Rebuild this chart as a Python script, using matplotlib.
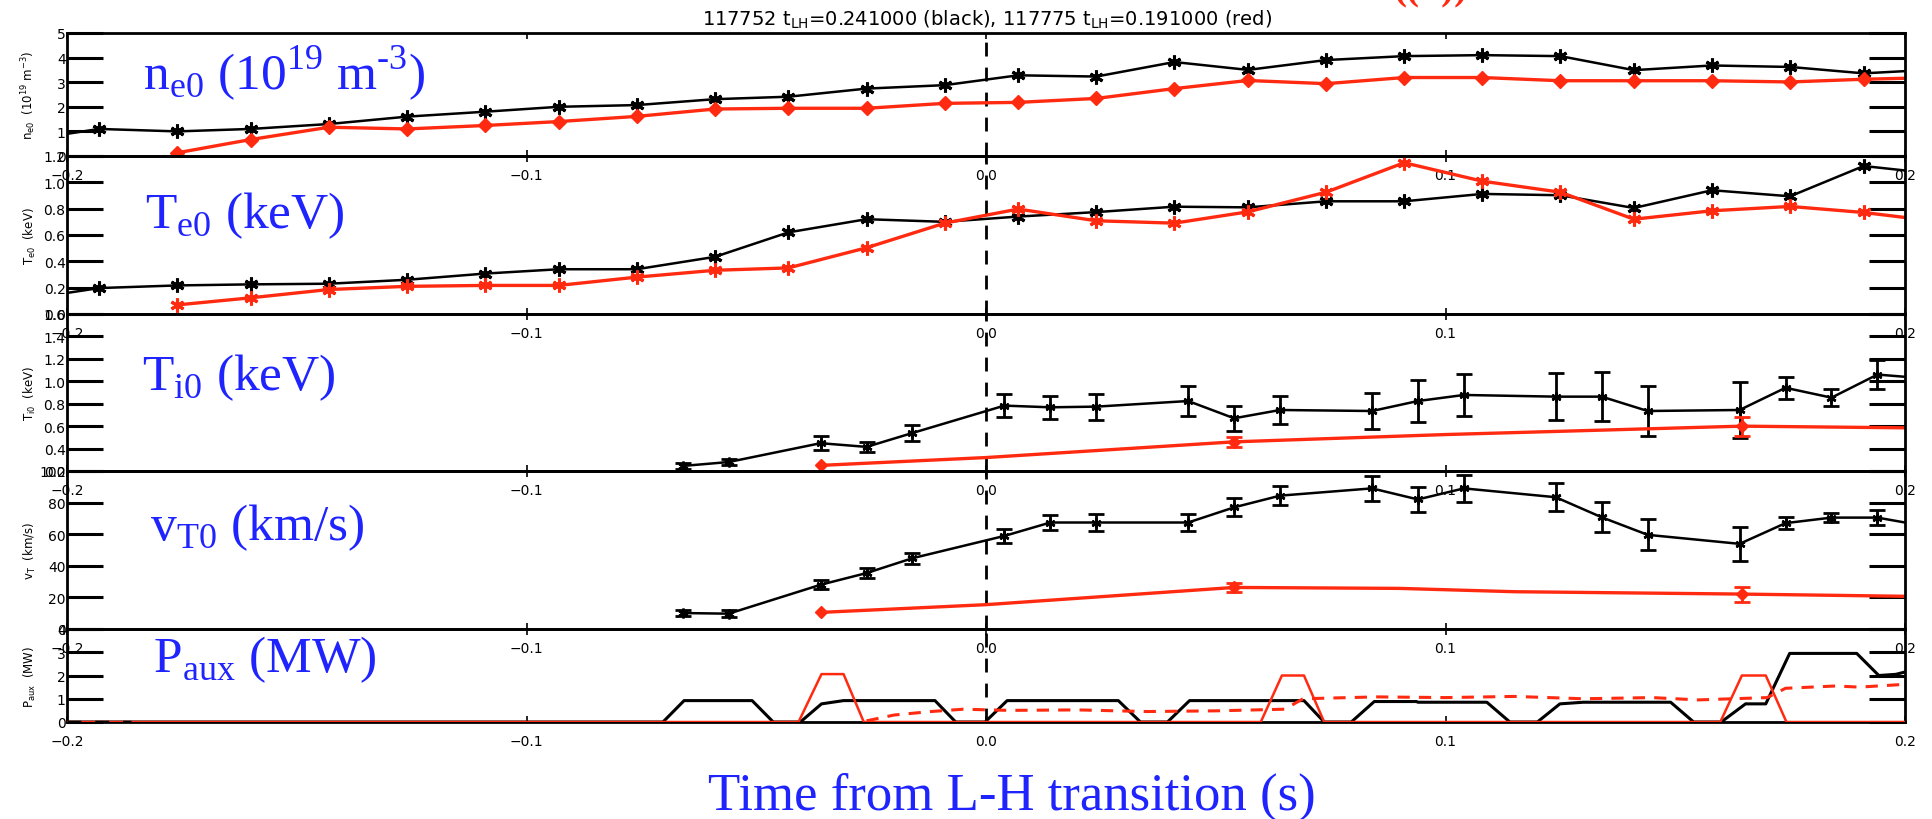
import numpy as np
import matplotlib
matplotlib.use("Agg")
from matplotlib import pyplot as plt

# ---- data ----
# Thomson points (s from L-H), black = 117752, red = 117775
ne_blk_t = [-0.2, -0.193, -0.176, -0.160, -0.143, -0.126, -0.109, -0.093, -0.076, -0.059, -0.043,
            -0.026, -0.009, 0.007, 0.024, 0.041, 0.057, 0.074, 0.091, 0.108, 0.125, 0.141,
            0.158, 0.175, 0.191, 0.2]
ne_blk = [0.9, 1.1, 1.0, 1.1, 1.3, 1.6, 1.8, 2.0, 2.07, 2.31, 2.41, 2.74, 2.88, 3.28, 3.23, 3.82,
          3.5, 3.9, 4.06, 4.1, 4.06, 3.49, 3.68, 3.62, 3.36, 3.45]
ne_red_t = [-0.176, -0.160, -0.143, -0.126, -0.109, -0.093, -0.076, -0.059, -0.043, -0.026,
            -0.009, 0.007, 0.024, 0.041, 0.057, 0.074, 0.091, 0.108, 0.125, 0.141, 0.158,
            0.175, 0.191, 0.2]
ne_red = [0.13, 0.67, 1.17, 1.1, 1.24, 1.4, 1.61, 1.91, 1.94, 1.94, 2.14, 2.18, 2.34, 2.74,
          3.07, 2.94, 3.19, 3.19, 3.06, 3.06, 3.06, 3.01, 3.12, 3.16]

te_blk = [0.16, 0.197, 0.217, 0.225, 0.23, 0.26, 0.307, 0.34, 0.34, 0.434, 0.62, 0.72, 0.70,
          0.74, 0.774, 0.815, 0.81, 0.856, 0.856, 0.912, 0.902, 0.805, 0.94, 0.894, 1.124, 1.09]
te_red = [0.069, 0.123, 0.186, 0.21, 0.217, 0.217, 0.28, 0.332, 0.35, 0.503, 0.69, 0.797,
          0.708, 0.69, 0.776, 0.925, 1.149, 1.009, 0.925, 0.72, 0.784, 0.817, 0.771, 0.733]

# CHERS points
ti_t = [-0.066, -0.056, -0.036, -0.026, -0.016, 0.004, 0.014, 0.024, 0.044, 0.054, 0.064,
        0.084, 0.094, 0.104, 0.124, 0.134, 0.144, 0.164, 0.174, 0.184, 0.194]
ti_blk = [0.245, 0.28, 0.448, 0.415, 0.539, 0.783, 0.768, 0.774, 0.824, 0.67, 0.744, 0.735,
          0.824, 0.878, 0.863, 0.863, 0.735, 0.744, 0.942, 0.854, 1.06]
ti_blk_err = [0.027, 0.03, 0.06, 0.048, 0.07, 0.1, 0.1, 0.115, 0.13, 0.114, 0.123, 0.16,
              0.185, 0.19, 0.21, 0.22, 0.22, 0.247, 0.096, 0.077, 0.126]
ti_blk_end = 1.04
ti_red_t = [-0.036, 0.0, 0.054, 0.1, 0.1645, 0.2]
ti_red = [0.25, 0.32, 0.46, 0.525, 0.6, 0.585]
ti_red_pts_t = [0.054, 0.1645]
ti_red_pts = [0.46, 0.6]
ti_red_err = [0.045, 0.085]

vt_blk = [10.1, 9.7, 28.0, 35.4, 44.8, 58.9, 67.4, 67.4, 67.4, 77.0, 84.4, 89.0, 82.0, 89.0,
          83.4, 70.7, 59.6, 53.9, 67.0, 70.5, 70.5]
vt_blk_err = [2.0, 2.3, 2.7, 3.2, 3.6, 4.5, 5.0, 5.3, 5.3, 5.7, 6.1, 7.8, 8.1, 8.6, 8.8, 9.4,
              9.9, 10.7, 3.7, 2.8, 4.9]
vt_blk_end = 67.4
vt_red_t = [-0.036, 0.0, 0.054, 0.09, 0.115, 0.1645, 0.2]
vt_red = [10.5, 15.4, 26.3, 25.7, 23.6, 22.1, 20.7]
vt_red_pts_t = [0.054, 0.1645]
vt_red_pts = [26.3, 22.1]
vt_red_err = [2.6, 4.7]

paux_blk_t = [-0.2, -0.0703, -0.0657, -0.0509, -0.0463, -0.0404, -0.0358, -0.031, -0.0111,
              -0.0066, -0.0002, 0.0046, 0.0288, 0.0336, 0.0395, 0.0443, 0.0692, 0.0736, 0.0795,
              0.0845, 0.0937, 0.094, 0.109, 0.114, 0.12, 0.1249, 0.13, 0.149, 0.154, 0.16,
              0.1653, 0.1697, 0.1749, 0.1895, 0.1943, 0.198, 0.2]
paux_blk = [0, 0, 0.92, 0.92, 0, 0, 0.78, 0.92, 0.92, 0, 0, 0.92, 0.92, 0, 0, 0.92, 0.92, 0,
            0, 0.88, 0.88, 0.85, 0.85, 0, 0, 0.78, 0.85, 0.85, 0, 0, 0.78, 0.78, 2.95, 2.95,
            2.0, 2.05, 2.15]
paux_red_t = [-0.2, -0.0408, -0.0358, -0.031, -0.0266, 0.0598, 0.0644, 0.0692, 0.0736, 0.1598,
              0.1645, 0.1697, 0.1742, 0.2]
paux_red = [0, 0, 2.06, 2.06, 0, 0, 2.0, 2.0, 0, 0, 2.0, 2.0, 0, 0]
pdash_red_t = [-0.026, -0.02, -0.012, -0.005, 0.005, 0.02, 0.035, 0.05, 0.065, 0.069, 0.085,
               0.1, 0.115, 0.13, 0.145, 0.155, 0.17, 0.174, 0.185, 0.19, 0.2]
pdash_red = [0.05, 0.3, 0.45, 0.55, 0.5, 0.52, 0.45, 0.48, 0.55, 1.0, 1.08, 1.05, 1.1, 1.0,
             1.05, 0.95, 1.05, 1.45, 1.55, 1.5, 1.62]

xticks = [-0.2, -0.1, 0.0, 0.1, 0.2]
xtick_labels = ["\u22120.2", "\u22120.1", "0.0", "0.1", "0.2"]

RED = "#ff2a10"
BLUE = "#1f24ff"
W, H = 1932, 820

fig = plt.figure(figsize=(W / 100, H / 100), dpi=100)
L, R = 67, 1905


def panel(top, bot):
    return fig.add_axes([L / W, 1 - bot / H, (R - L) / W, (bot - top) / H])


rows = [(34, 157), (157, 315), (315, 472), (472, 630), (630, 723)]
axs = [panel(t, b) for t, b in rows]

ylims = [(0, 5), (0, 1.2), (0.2, 1.6), (0, 100), (0, 4)]
yticks = [[0, 1, 2, 3, 4, 5], [0, 0.2, 0.4, 0.6, 0.8, 1.0, 1.2],
          [0.2, 0.4, 0.6, 0.8, 1.0, 1.2, 1.4, 1.6], [0, 20, 40, 60, 80, 100], [0, 1, 2, 3, 4]]
ytick_labels = [["0", "1", "2", "3", "4", "5"], ["0.0", "0.2", "0.4", "0.6", "0.8", "1.0", "1.2"],
                ["0.2", "0.4", "0.6", "0.8", "1.0", "1.2", "1.4", "1.6"],
                ["0", "20", "40", "60", "80", "100"], ["0", "1", "2", "3", "4"]]
small_ylabels = [r"n$_\mathregular{e0}$  (10$^\mathregular{19}$ m$^\mathregular{-3}$)",
                 r"T$_\mathregular{e0}$  (keV)", r"T$_\mathregular{i0}$  (keV)",
                 r"v$_\mathregular{T}$  (km/s)", r"P$_\mathregular{aux}$  (MW)"]

for ax, yl, yt, ytl, lab in zip(axs, ylims, yticks, ytick_labels, small_ylabels):
    ax.patch.set_visible(False)
    ax.set_xlim(-0.2, 0.2)
    ax.set_ylim(*yl)
    ax.set_yticks(yt)
    ax.set_yticklabels(ytl, fontsize=10)
    ax.set_xticks(xticks)
    ax.set_xticklabels(xtick_labels, fontsize=10)
    ax.tick_params(axis="y", direction="in", length=26, width=2.2, left=True, right=True, pad=1)
    ax.tick_params(axis="x", direction="in", length=4, width=1.2, top=True, bottom=True, pad=9)
    for s in ax.spines.values():
        s.set_linewidth(2)
    ax.set_ylabel(lab, fontsize=8.5, labelpad=0)
    ax.yaxis.set_label_coords(-0.016, 0.5)
    ax.axvline(0.0, color="k", lw=2, ls=(0, (5, 4)), zorder=1)

ast = dict(marker=(6, 2, 0), markersize=10, mew=2.2)

# n_e
ax = axs[0]
ax.plot(ne_blk_t, ne_blk, color="k", lw=1.8, markevery=slice(1, -1), mfc="k", mec="k", **ast)
ax.plot(ne_red_t, ne_red, color=RED, lw=2.4, marker="D", markersize=7, mfc=RED, mec=RED,
        markevery=slice(0, -1))

# T_e
ax = axs[1]
ax.plot(ne_blk_t, te_blk, color="k", lw=1.8, markevery=slice(1, -1), mfc="k", mec="k", **ast)
ax.plot(ne_red_t, te_red, color=RED, lw=2.4, markevery=slice(0, -1), mfc=RED, mec=RED, **ast)

# T_i
ax = axs[2]
ax.plot(ti_t + [0.2], ti_blk + [ti_blk_end], color="k", lw=1.8)
ax.errorbar(ti_t, ti_blk, yerr=ti_blk_err, fmt="none", ecolor="k", elinewidth=2,
            capsize=5.5, capthick=2)
ax.plot(ti_t, ti_blk, ls="none", marker=(6, 2, 0), markersize=7, mew=1.8, color="k")
ax.plot(ti_red_t, ti_red, color=RED, lw=2.4)
ax.errorbar(ti_red_pts_t, ti_red_pts, yerr=ti_red_err, fmt="none", ecolor=RED, elinewidth=2,
            capsize=5.5, capthick=2)
ax.plot(ti_red_t[:1] + ti_red_pts_t, ti_red[:1] + ti_red_pts, ls="none", marker="D",
        markersize=6, color=RED)

# v_T
ax = axs[3]
ax.plot(ti_t + [0.2], vt_blk + [vt_blk_end], color="k", lw=1.8)
ax.errorbar(ti_t, vt_blk, yerr=vt_blk_err, fmt="none", ecolor="k", elinewidth=2,
            capsize=5.5, capthick=2)
ax.plot(ti_t, vt_blk, ls="none", marker=(6, 2, 0), markersize=7, mew=1.8, color="k")
ax.plot(vt_red_t, vt_red, color=RED, lw=2.4)
ax.errorbar(vt_red_pts_t, vt_red_pts, yerr=vt_red_err, fmt="none", ecolor=RED, elinewidth=2,
            capsize=5.5, capthick=2)
ax.plot(vt_red_t[:1] + vt_red_pts_t, vt_red[:1] + vt_red_pts, ls="none", marker="D",
        markersize=6, color=RED)

# P_aux
ax = axs[4]
ax.plot(paux_blk_t, paux_blk, color="k", lw=2.2, zorder=2)
ax.plot(paux_red_t, paux_red, color=RED, lw=1.8, zorder=3)
ax.plot(pdash_red_t, pdash_red, color=RED, lw=2.2, ls=(0, (4, 3)), zorder=3)
ax.plot([-0.2, -0.186], [0.0, 0.0], color="k", lw=2.5, ls=(0, (4, 4)), zorder=4)

fig.text(987 / W, 1 - 20 / H,
         r"117752 t$_\mathregular{LH}$=0.241000 (black), 117775 t$_\mathregular{LH}$=0.191000 (red)",
         ha="center", va="center", fontsize=14)

# clipped red mark at the top edge
fig.text(1430 / W, 1 + 10 / H, "((\u00d7))", color=RED, fontsize=28, fontweight="bold",
         family="Liberation Serif", ha="center", va="center")

# big blue annotations
big = dict(color=BLUE, fontsize=37, family="Liberation Serif", va="baseline", ha="left")
fig.text(143 / W, 1 - 90 / H, "n$_\\mathregular{e0}$ (10$^\\mathregular{19}$ m$^\\mathregular{\u20103}$)", **big)
fig.text(145 / W, 1 - 228 / H, r"T$_\mathregular{e0}$ (keV)", **big)
fig.text(142 / W, 1 - 390 / H, r"T$_\mathregular{i0}$ (keV)", **big)
fig.text(150 / W, 1 - 540 / H, r"v$_\mathregular{T0}$ (km/s)", **big)
fig.text(153 / W, 1 - 672 / H, r"P$_\mathregular{aux}$ (MW)", **big)
fig.text(708 / W, 1 - 810 / H, "Time from L-H transition (s)", color=BLUE, fontsize=38,
         family="Liberation Serif", va="baseline", ha="left")

fig.savefig("out.png", dpi=100)
